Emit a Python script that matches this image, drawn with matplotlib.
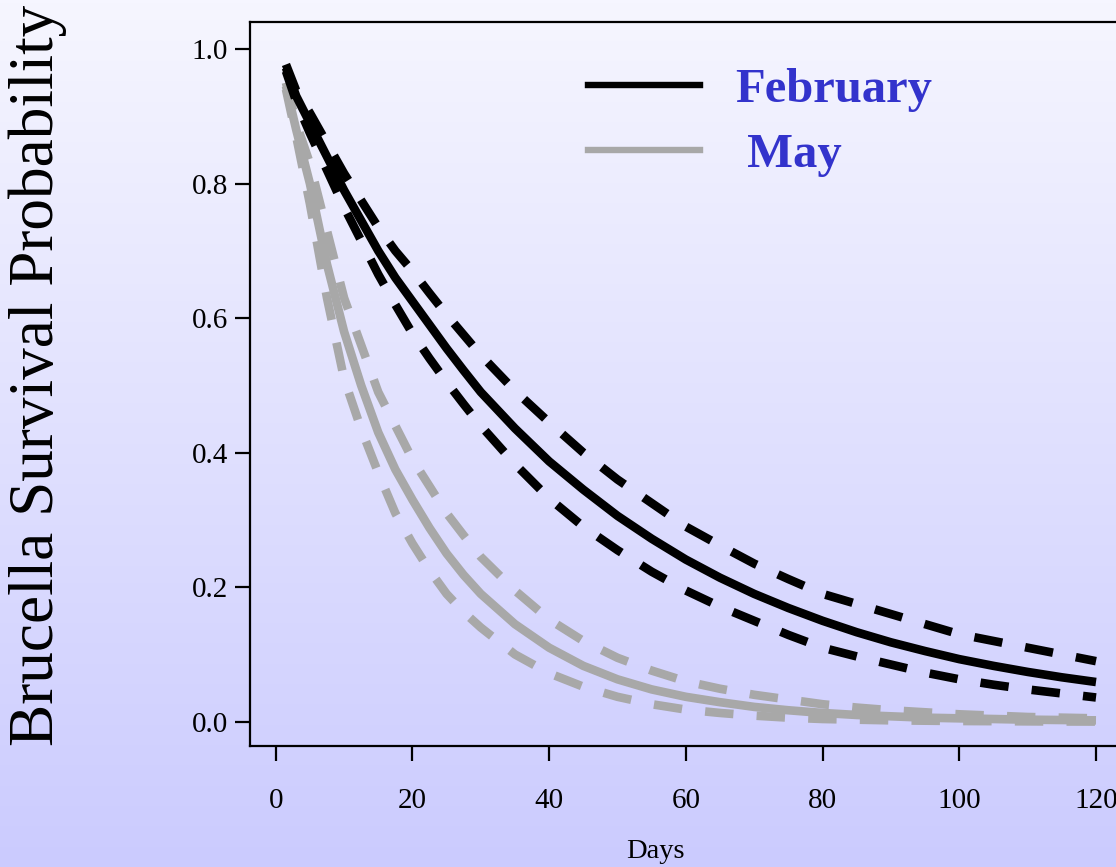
import numpy as np
import matplotlib
matplotlib.use('Agg')
import matplotlib.pyplot as plt
from matplotlib.colors import LinearSegmentedColormap
from matplotlib.lines import Line2D

# ---- data ----
days = [1.5, 3, 5, 7.5, 10, 12.5, 15, 17.5, 20, 22.5, 25, 27.5, 30, 35, 40, 45, 50,
        55, 60, 65, 70, 75, 80, 85, 90, 95, 100, 105, 110, 115, 120]

feb_mean = [0.972, 0.93, 0.89, 0.84, 0.79, 0.745, 0.70, 0.66, 0.625, 0.59, 0.555, 0.522, 0.49,
            0.436, 0.387, 0.345, 0.306, 0.272, 0.241, 0.214, 0.19, 0.169, 0.15, 0.133, 0.118,
            0.105, 0.093, 0.083, 0.074, 0.066, 0.059]
feb_lo   = [0.967, 0.922, 0.875, 0.82, 0.765, 0.715, 0.665, 0.62, 0.577, 0.54, 0.505, 0.472, 0.44,
            0.383, 0.332, 0.29, 0.255, 0.223, 0.195, 0.171, 0.15, 0.129, 0.11, 0.097, 0.085,
            0.073, 0.063, 0.055, 0.048, 0.042, 0.036]
feb_hi   = [0.977, 0.938, 0.905, 0.86, 0.815, 0.775, 0.735, 0.70, 0.67, 0.637, 0.605, 0.575, 0.545,
            0.492, 0.445, 0.40, 0.36, 0.325, 0.29, 0.262, 0.235, 0.212, 0.19, 0.175, 0.16,
            0.145, 0.13, 0.12, 0.11, 0.10, 0.09]

may_mean = [0.945, 0.88, 0.80, 0.68, 0.58, 0.50, 0.43, 0.375, 0.33, 0.288, 0.25, 0.218, 0.19,
            0.145, 0.11, 0.083, 0.063, 0.048, 0.037, 0.029, 0.022, 0.017, 0.013, 0.010, 0.008,
            0.006, 0.005, 0.004, 0.003, 0.0025, 0.002]
may_lo   = [0.94, 0.87, 0.77, 0.63, 0.51, 0.435, 0.37, 0.31, 0.265, 0.225, 0.19, 0.163, 0.14,
            0.10, 0.072, 0.052, 0.037, 0.026, 0.018, 0.013, 0.009, 0.006, 0.004, 0.003, 0.002,
            0.0015, 0.001, 0.0008, 0.0005, 0.0003, 0.0002]
may_hi   = [0.95, 0.89, 0.83, 0.73, 0.63, 0.56, 0.49, 0.44, 0.39, 0.35, 0.31, 0.277, 0.245,
            0.195, 0.152, 0.12, 0.095, 0.076, 0.06, 0.049, 0.04, 0.033, 0.026, 0.021, 0.017,
            0.014, 0.011, 0.009, 0.007, 0.006, 0.005]

series_labels = ["February", " May"]
xticks = [0, 20, 40, 60, 80, 100, 120]
yticks = [0.0, 0.2, 0.4, 0.6, 0.8, 1.0]

SERIF = ['Liberation Serif', 'DejaVu Serif']
plt.rcParams['font.family'] = SERIF

W, H = 1116, 867
fig = plt.figure(figsize=(W / 100, H / 100), dpi=100)

# background gradient
bg = fig.add_axes([0, 0, 1, 1], zorder=-10)
cmap = LinearSegmentedColormap.from_list('bg', [(246/255, 246/255, 1.0), (203/255, 203/255, 254/255)])
grad = np.linspace(0, 1, 256).reshape(-1, 1)
bg.imshow(grad, aspect='auto', cmap=cmap, extent=[0, 1, 0, 1], origin='upper')
bg.set_axis_off()

# main axes geometry (pixels)
left_px, bottom_px, top_px = 250, 746, 22
x0_px, x120_px = 275.7, 1096.0
y0_px, y1_px = 721.7, 49.0
ppx = (x120_px - x0_px) / 120.0
ppy = (y0_px - y1_px) / 1.0
xmin = -(x0_px - left_px) / ppx
xmax = 126.0
ymin = -(bottom_px - y0_px) / ppy
ymax = 1 + (y1_px - top_px) / ppy
width_px = (xmax - xmin) * ppx

ax = fig.add_axes([left_px / W, (H - bottom_px) / H, width_px / W, (bottom_px - top_px) / H])
ax.set_facecolor('none')
ax.set_xlim(xmin, xmax)
ax.set_ylim(ymin, ymax)

gray = '#a8a8a8'
lw = 6.2
dash = (3.3, 2.7)

ax.plot(days, may_mean, color=gray, lw=lw, solid_capstyle='butt', solid_joinstyle='round')
ax.plot(days, may_lo, color=gray, lw=lw, dashes=dash)
ax.plot(days, may_hi, color=gray, lw=lw, dashes=dash)
ax.plot(days, feb_mean, color='black', lw=lw, solid_capstyle='butt', solid_joinstyle='round')
ax.plot(days, feb_lo, color='black', lw=lw, dashes=dash)
ax.plot(days, feb_hi, color='black', lw=lw, dashes=dash)

for s in ['left', 'bottom', 'top', 'right']:
    ax.spines[s].set_linewidth(1.6)
    ax.spines[s].set_color('black')

ax.set_xticks(xticks)
ax.set_xticklabels([str(v) for v in xticks])
ax.set_yticks(yticks)
ax.set_yticklabels([f"{v:.1f}" for v in yticks])
ax.tick_params(axis='both', direction='out', length=11, width=1.6, labelsize=21, colors='black')
ax.tick_params(axis='x', pad=19)
ax.tick_params(axis='y', pad=5)

ax.set_xlabel('Days', fontsize=20.5)
ax.xaxis.set_label_coords(((655 - left_px) / width_px), -(852 - bottom_px) / (bottom_px - top_px))
ax.xaxis.label.set_va('center')

fig.text(38 / W, 1 - 375 / H, 'Brucella Survival Probability', rotation=90,
         fontsize=45.5, ha='center', va='center', color='black')

handles = [Line2D([], [], color='black', lw=4.6),
           Line2D([], [], color=gray, lw=4.6)]
leg = ax.legend(handles, series_labels, loc='upper left',
                bbox_to_anchor=(588 / W, 1 - 68 / H), bbox_transform=fig.transFigure,
                frameon=False, borderpad=0, borderaxespad=0,
                prop={'family': SERIF, 'weight': 'bold', 'size': 35},
                handlelength=2.3, handletextpad=0.72, labelspacing=0.44,
                labelcolor='#3333cc')

fig.savefig('out.png', dpi=100)
